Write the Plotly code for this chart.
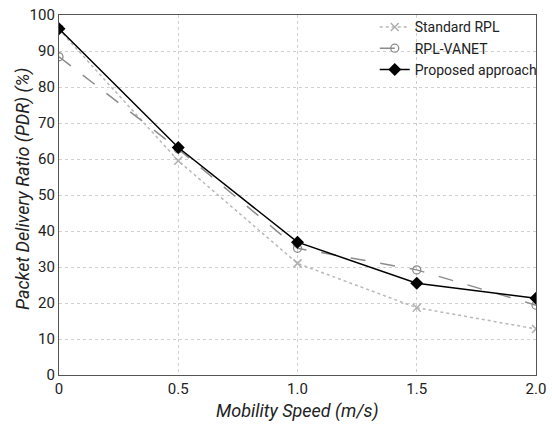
import plotly.graph_objects as go

speed = [0, 0.5, 1.0, 1.5, 2.0]
standard_rpl = [96.0, 59.5, 31.0, 18.7, 12.8]
rpl_vanet = [88.4, 62.8, 35.2, 29.2, 19.4]
proposed = [96.2, 63.2, 36.9, 25.5, 21.3]
x_ticks = [0, 0.5, 1.0, 1.5, 2.0]
x_tick_labels = ["0", "0.5", "1.0", "1.5", "2.0"]
y_ticks = [0, 10, 20, 30, 40, 50, 60, 70, 80, 90, 100]
x_title = "Mobility Speed (m/s)"
y_title = "Packet Delivery Ratio (PDR) (%)"

fig = go.Figure()
fig.add_trace(go.Scatter(
    x=speed, y=standard_rpl, name="Standard RPL", mode="lines+markers",
    line=dict(color="#b8b8b8", width=1.5, dash="dot"),
    marker=dict(symbol="x-thin", size=8, line=dict(color="#b0b0b0", width=1.5), color="#b0b0b0")))
fig.add_trace(go.Scatter(
    x=speed, y=rpl_vanet, name="RPL-VANET", mode="lines+markers",
    line=dict(color="#8c8c8c", width=1.5, dash="longdash"),
    marker=dict(symbol="circle-open", size=8, color="#8c8c8c", line=dict(width=1.3))))
fig.add_trace(go.Scatter(
    x=speed, y=proposed, name="Proposed approach", mode="lines+markers",
    line=dict(color="black", width=1.5),
    marker=dict(symbol="diamond", size=10, color="black")))

fig.update_layout(
    width=552, height=428,
    margin=dict(l=59, r=10, t=15, b=53),
    paper_bgcolor="white", plot_bgcolor="white",
    font=dict(family="Roboto", size=15, color="#222"),
    showlegend=True,
    legend=dict(x=1.012, y=1.01, xanchor="right", yanchor="top",
                bgcolor="rgba(0,0,0,0)", borderwidth=0,
                font=dict(size=14), tracegroupgap=0),
    xaxis=dict(range=[0, 2.0], tickvals=x_ticks, ticktext=x_tick_labels,
               showgrid=True, gridcolor="#d0d0d0", griddash="dot", gridwidth=1,
               showline=True, linecolor="#555", linewidth=1.2, mirror=True,
               ticks="", zeroline=False, automargin=False, ticklabeloverflow="allow"),
    yaxis=dict(range=[0, 100], tickvals=y_ticks,
               showgrid=True, gridcolor="#d0d0d0", griddash="dot", gridwidth=1,
               showline=True, linecolor="#555", linewidth=1.2, mirror=True,
               ticks="", zeroline=False, automargin=False, ticklabeloverflow="allow"),
    annotations=[
        dict(text="<i>" + x_title + "</i>", xref="paper", yref="paper", x=0.5, y=0,
             xanchor="center", yanchor="middle", yshift=-36, showarrow=False,
             font=dict(size=18, color="#222")),
        dict(text="<i>" + y_title + "</i>", xref="paper", yref="paper", x=0, y=0.5,
             xanchor="center", yanchor="middle", xshift=-36, yshift=6, textangle=-90,
             showarrow=False, font=dict(size=18, color="#222")),
    ],
)
fig.write_html("out.html", config={"displayModeBar": False},
               post_script="document.body.style.margin='0';document.body.style.overflow='hidden';")
